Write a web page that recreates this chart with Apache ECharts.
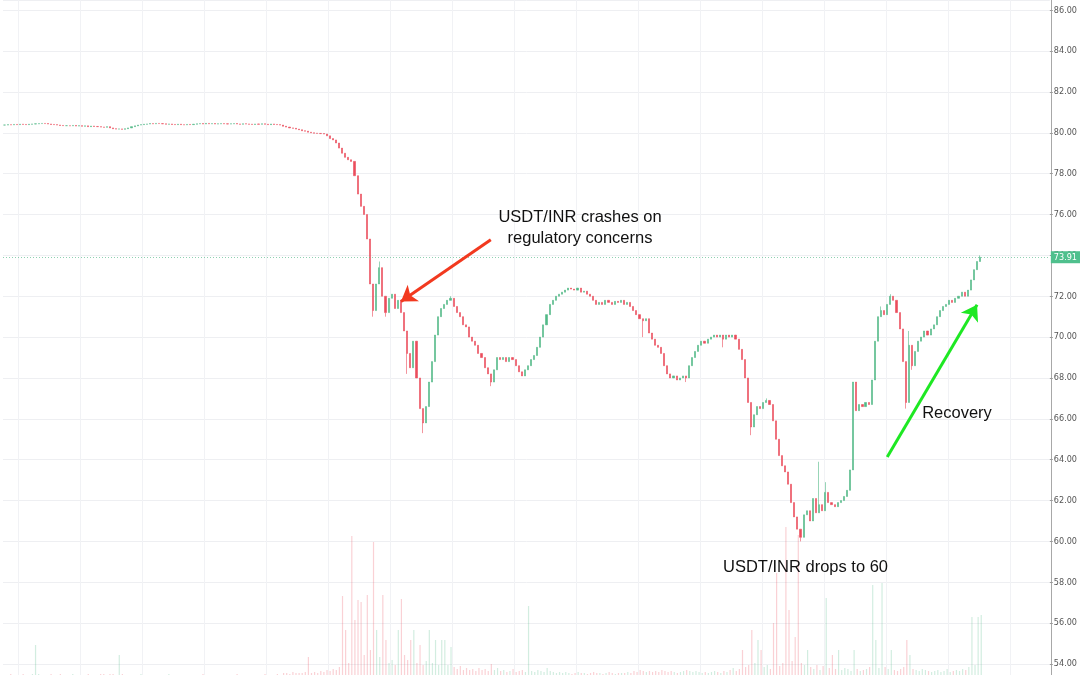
<!DOCTYPE html>
<html><head><meta charset="utf-8">
<script src="https://cdn.jsdelivr.net/npm/echarts/dist/echarts.min.js"></script>
<style>html,body{margin:0;padding:0;background:#fff}#c{width:1080px;height:675px}</style>
</head><body><div id="c"></div>
<script>
// ---- data ----
const closes = [
80.38,80.40,80.39,80.41,80.40,80.42,80.41,80.40,80.42,80.43,
80.44,80.45,80.46,80.45,80.43,80.41,80.40,80.38,80.36,80.35,
80.35,80.34,80.36,80.33,80.35,80.32,80.34,80.30,80.33,80.31,
80.30,80.28,80.27,80.30,80.24,80.20,80.18,80.19,80.17,80.20,
80.24,80.30,80.34,80.38,80.40,80.42,80.43,80.45,80.44,80.46,
80.45,80.44,80.42,80.43,80.41,80.40,80.42,80.40,80.39,80.41,
80.40,80.42,80.44,80.45,80.43,80.46,80.44,80.45,80.43,80.44,
80.45,80.44,80.43,80.44,80.45,80.43,80.42,80.44,80.43,80.42,
80.41,80.43,80.42,80.44,80.42,80.40,80.43,80.41,80.40,80.38,
80.32,80.28,80.24,80.22,80.18,80.15,80.10,80.08,80.03,80.00,
79.98,79.97,79.96,79.94,79.85,79.72,79.65,79.50,79.25,79.00,
78.80,78.68,78.60,77.90,77.00,76.40,76.00,74.80,72.60,71.30,
72.60,73.40,72.00,71.20,71.90,72.10,71.40,71.80,71.20,70.30,
69.20,68.50,69.80,68.00,66.50,65.80,66.60,67.80,68.80,70.10,
71.00,71.40,71.60,71.80,71.90,71.50,71.20,71.00,70.60,70.50,
70.00,69.80,69.60,69.20,69.00,68.50,68.20,67.80,68.40,69.00,
68.90,69.00,68.80,69.00,68.90,68.60,68.30,68.10,68.40,68.60,
68.90,69.10,69.50,70.00,70.60,71.10,71.60,71.80,72.00,72.10,
72.20,72.30,72.40,72.35,72.30,72.40,72.20,72.25,72.10,72.00,
71.80,71.60,71.70,71.60,71.80,71.70,71.60,71.75,71.70,71.80,
71.60,71.70,71.50,71.30,71.10,70.90,70.80,70.90,70.20,69.90,
69.60,69.50,69.20,68.60,68.20,68.00,68.10,67.90,68.00,68.10,
68.00,68.60,69.00,69.30,69.60,69.80,69.70,69.90,70.00,70.10,
70.00,70.10,69.90,70.10,70.00,70.10,69.90,69.40,68.90,68.00,
66.80,65.60,66.20,66.60,66.50,66.80,66.90,66.70,65.90,65.00,
64.20,63.70,63.40,62.80,61.90,61.20,60.60,60.20,61.30,61.50,
61.00,62.10,61.40,61.80,61.50,62.40,61.90,61.80,61.70,61.90,
62.00,62.20,62.50,63.50,67.80,66.40,66.70,66.60,66.80,66.70,
67.90,69.80,71.00,71.30,71.10,71.60,72.00,71.80,71.20,70.40,
68.80,66.80,69.60,68.60,69.30,69.80,70.00,70.30,70.10,70.40,
70.60,71.00,71.30,71.50,71.60,71.80,71.70,71.90,72.00,72.20,
72.00,72.30,72.80,73.30,73.70,73.91
];
// extra wick extremes: [candle index, price]
const wickHigh = [[121,73.7],[144,72.0],[246,67.0],[263,63.9],[265,62.9],[283,71.5],[286,72.1],[292,70.3],[315,74.0]];
const wickLow = [[119,71.0],[123,71.0],[130,68.2],[135,65.3],[157,67.6],[206,70.0],[220,67.8],[232,69.5],[241,65.2],[257,60.0],[291,66.5],[293,68.4]];
const volumes = [
0,0,1,0,0,0,1,0,0,1, 30,1,0,0,0,1,0,0,1,0, 0,0,1,0,0,0,0,1,0,0, 0,1,1,0,1,1,0,20,1,0,
0,0,0,0,1,0,0,0,0,0, 0,0,0,1,0,0,0,0,0,0, 0,0,0,0,1,0,0,0,0,0, 0,0,0,0,0,1,0,0,0,0,
0,0,0,0,1,0,0,0,1,0, 2,2,1,3,2,2,2,3,18,2, 3,2,4,3,5,4,6,5,8,79, 45,12,139,55,75,73,20,80,25,133,
45,18,80,35,12,15,10,45,76,20, 15,35,45,12,30,10,14,45,12,35, 10,35,35,10,28,8,6,9,5,7, 5,6,4,7,5,6,4,11,5,7,
4,5,3,4,6,3,4,5,3,69, 4,3,5,4,3,7,4,3,2,3, 2,3,2,1,2,3,2,2,1,2, 3,2,2,1,2,3,2,1,2,2,
2,3,2,4,3,5,4,3,4,3, 4,3,5,4,3,4,3,2,3,4, 5,4,3,4,3,2,3,2,3,4, 3,2,4,3,5,7,4,6,25,8,
10,45,12,35,25,8,10,6,52,102, 9,12,148,65,14,38,140,12,10,25, 8,6,10,5,9,77,7,20,6,25,
5,7,6,4,25,6,4,5,6,8, 90,35,7,92,8,6,25,5,4,6, 8,35,20,6,5,4,6,5,4,3,
4,5,3,4,6,3,4,5,4,6, 5,8,58,10,58,60
];
const slotCount = 338;              // candle slots incl. empty right margin
const lastPrice = 73.91;
const priceMin = 54, priceMax = 86.5, priceStep = 2;
const redArrow = [[157, 74.76], [128, 71.74]];
const greenArrow = [[285, 64.13], [314, 71.58]];
const noteCrash = 'USDT/INR crashes on\nregulatory concerns';
const noteDrop = 'USDT/INR drops to 60';
const noteRecovery = 'Recovery';

// ---- build ----
const UP = '#53b987', DOWN = '#eb4d5c';
const cats = Array.from({length: slotCount}, (_, i) => String(i));
const ohlc = closes.map((c, i) => {
  const o = i === 0 ? c : closes[i - 1];
  return [o, c, Math.min(o, c), Math.max(o, c)];
});
wickHigh.forEach(([i, v]) => { ohlc[i][3] = Math.max(ohlc[i][3], v); });
wickLow.forEach(([i, v]) => { ohlc[i][2] = Math.min(ohlc[i][2], v); });
const volData = volumes.map((v, i) => ({
  value: v,
  itemStyle: { color: ohlc[i][1] >= ohlc[i][0] ? 'rgba(83,185,135,0.26)' : 'rgba(235,77,92,0.26)' }
}));

const chart = echarts.init(document.getElementById('c'), null, {renderer: 'canvas'});
const FONT = "'Liberation Sans', Helvetica, Arial, sans-serif";
const NARROW = "'Liberation Sans Narrow','DejaVu Sans Condensed',sans-serif";
chart.setOption({
  animation: false,
  backgroundColor: '#ffffff',
  grid: [
    {left: 3, right: 29, top: 0, bottom: 11},
    {left: 3, right: 29, top: 0, bottom: 0}
  ],
  xAxis: [
    {type: 'category', gridIndex: 0, data: cats, boundaryGap: true,
     axisLine: {show: false}, axisTick: {show: false}, axisLabel: {show: false}, splitLine: {show: false}},
    {type: 'category', gridIndex: 1, data: cats, boundaryGap: true,
     axisLine: {show: false}, axisTick: {show: false}, axisLabel: {show: false},
     splitLine: {show: true, interval: (idx) => idx % 20 === 5, lineStyle: {color: '#f1f2f5', width: 1}}}
  ],
  yAxis: [
    {type: 'value', gridIndex: 0, position: 'right', min: priceMin, max: priceMax, interval: priceStep,
     axisLine: {show: false},
     axisTick: {show: true, length: 3, lineStyle: {color: '#9a9a9a'}},
     axisLabel: {show: true, showMaxLabel: false, formatter: v => v.toFixed(2), fontSize: 9, color: '#555',
                 margin: 4, fontFamily: NARROW},
     splitLine: {show: true, lineStyle: {color: '#eeeff2', width: 1}}},
    {type: 'value', gridIndex: 1, position: 'right', min: 0, max: 675,
     axisLine: {show: true, lineStyle: {color: '#a8a8a8', width: 1}},
     axisTick: {show: false}, axisLabel: {show: false}, splitLine: {show: false}}
  ],
  series: [
    {type: 'bar', xAxisIndex: 1, yAxisIndex: 1, data: volData, barWidth: 1.2, silent: true, z: 1},
    {type: 'candlestick', xAxisIndex: 0, yAxisIndex: 0, data: ohlc, barWidth: 1.6, z: 3,
     itemStyle: {color: UP, color0: DOWN, borderColor: UP, borderColor0: DOWN, borderWidth: 0.6},
     markLine: {
       silent: true, animation: false, symbol: ['none', 'none'],
       data: [
         {yAxis: lastPrice,
          lineStyle: {color: 'rgba(83,185,135,0.65)', type: [1, 2], width: 1},
          label: {show: true, position: 'end', formatter: lastPrice.toFixed(2), backgroundColor: '#4fc08d',
                  color: '#ffffff', fontSize: 9, padding: [2, 3, 1, 3], distance: 1, opacity: 1,
                  fontFamily: NARROW}},
         [{coord: redArrow[0], symbol: 'none', lineStyle: {color: '#f2391f', width: 3, type: 'solid'}, label: {show: false}},
          {coord: redArrow[1], symbol: 'arrow', symbolSize: 15}],
         [{coord: greenArrow[0], symbol: 'none', lineStyle: {color: '#1ee823', width: 3, type: 'solid'}, label: {show: false}},
          {coord: greenArrow[1], symbol: 'arrow', symbolSize: 15}]
       ]
     }}
  ],
  graphic: [
    {type: 'text', x: 580, y: 227.5, z: 10,
     style: {text: noteCrash, font: '16.5px ' + FONT, fill: '#111', align: 'center', verticalAlign: 'middle', lineHeight: 21}},
    {type: 'text', x: 805.5, y: 567, z: 10,
     style: {text: noteDrop, font: '16.5px ' + FONT, fill: '#111', align: 'center', verticalAlign: 'middle'}},
    {type: 'text', x: 957, y: 413, z: 10,
     style: {text: noteRecovery, font: '16.5px ' + FONT, fill: '#111', align: 'center', verticalAlign: 'middle'}}
  ]
});
</script></body></html>
